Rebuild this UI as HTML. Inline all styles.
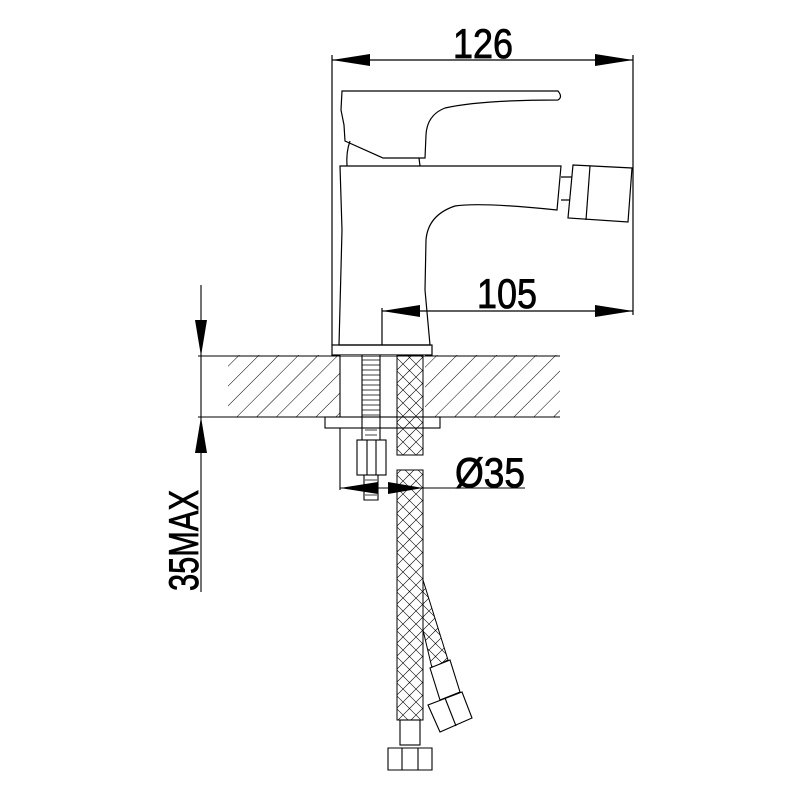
<!DOCTYPE html>
<html><head><style>html,body{margin:0;padding:0;background:#fff}svg{display:block}</style></head><body>
<svg width="800" height="800" viewBox="0 0 800 800" xmlns="http://www.w3.org/2000/svg">
<defs>
<pattern id="h" patternUnits="userSpaceOnUse" width="14" height="14" patternTransform="rotate(45)">
<line x1="0" y1="0" x2="0" y2="14" stroke="#000" stroke-width="1"/></pattern>
<pattern id="hb" patternUnits="userSpaceOnUse" width="13" height="13">
<path d="M0 0 L13 13 M13 0 L6.5 6.5 M0 13 L6.5 6.5" stroke="#000" stroke-width="0.6" fill="none"/></pattern>
</defs>
<g fill="none" stroke="#000" stroke-width="1.2">
<line x1="332" y1="55" x2="332" y2="345"/>
<line x1="633" y1="55" x2="633" y2="315"/>
<line x1="332" y1="60" x2="633" y2="60"/>
<path d="M342 91 L558 91 Q563 97 558 100 Q480 100 445 108 Q427 115 426 135 L425 158 L383 158 L345 141 L344 125 L341 110 Z"/>
<path d="M350 141 Q346 152 347 166"/><path d="M419 158 L420 166"/>
<path d="M340 166 L561 166 L557 210 Q480 202 455 206 Q428 215 426 240 L425 290 L430 345 L339 345 L342 230 Z"/>
<path d="M561 177 L572 177 M561 200 L570 200"/>
<path d="M573 165 L632 168 L628 222 L568 218 Z"/><path d="M590 166 L586 220"/>
<line x1="382" y1="308" x2="382" y2="345"/>
<line x1="382" y1="311" x2="633" y2="311"/>
<rect x="332" y="345" width="100" height="10"/>
</g>
<rect x="228" y="355" width="332" height="62" fill="url(#h)"/>
<rect x="340" y="355" width="85" height="62" fill="#fff"/>
<g fill="none" stroke="#000" stroke-width="1.1">
<line x1="198" y1="356" x2="560" y2="356"/><line x1="198" y1="417" x2="560" y2="417"/>
<line x1="340" y1="355" x2="340" y2="490"/>
<rect x="325" y="417" width="115" height="11" fill="#fff"/>
<path d="M362 355 L362 440 M380 355 L380 440 M364 475 L364 500 L378 500 L378 475"/>
<rect x="357" y="440" width="29" height="35"/><line x1="367" y1="440" x2="367" y2="475"/><line x1="376" y1="440" x2="376" y2="475"/>
</g>
<g stroke="#000" stroke-width="0.8">
<path d="M362 360h18M362 365h18M362 370h18M362 375h18M362 380h18M362 385h18M362 390h18M362 395h18M362 400h18M362 405h18M362 410h18M362 415h18M365 430h12M365 435h12M365 480h12M365 485h12M365 490h12M365 495h12"/>
</g>
<path d="M423 580 L448 660 L432 668 L423 630 Z" fill="url(#hb)" stroke="#000"/>
<rect x="397" y="355" width="26" height="100" fill="url(#hb)" stroke="#000"/>
<rect x="397" y="470" width="26" height="250" fill="url(#hb)" stroke="#000"/>
<g fill="#fff" stroke="#000" stroke-width="1.1">
<rect x="400" y="720" width="20" height="25"/>
<path d="M388 748 L432 748 L432 770 L388 770 Z"/><path d="M402 748 V770 M418 748 V770"/>
<path d="M430 668 L450 660 L460 692 L440 700 Z"/>
<path d="M428 705 L462 692 L472 718 L440 732 Z"/><path d="M445 698 L456 726"/>
</g>
<line x1="340" y1="488" x2="525" y2="488" stroke="#000" stroke-width="1.1"/>
<polygon points="340,488 378,482 378,494" fill="#000"/>
<polygon points="423,488 388,482 388,494" fill="#000"/>
<g fill="#000">
<polygon points="332,60 370,54 370,66"/><polygon points="633,60 595,54 595,66"/>
<polygon points="382,311 420,305 420,317"/><polygon points="633,311 595,305 595,317"/>
<polygon points="201,356 195,320 207,320"/><polygon points="201,417 195,453 207,453"/>
</g>
<line x1="201" y1="285" x2="201" y2="592" stroke="#000" stroke-width="1.1"/>
<g font-family="Liberation Sans Narrow, Liberation Sans, sans-serif" font-size="42" fill="#000" stroke="#000" stroke-width="0.8">
<text x="483" y="58" text-anchor="middle" textLength="60" lengthAdjust="spacingAndGlyphs">126</text>
<text x="507" y="308" text-anchor="middle" textLength="60" lengthAdjust="spacingAndGlyphs">105</text>
<text x="455" y="487" textLength="70" lengthAdjust="spacingAndGlyphs">Ø35</text>
<text transform="translate(198,591) rotate(-90)" textLength="101" lengthAdjust="spacingAndGlyphs">35MAX</text>
</g>
</svg>
</body></html>
